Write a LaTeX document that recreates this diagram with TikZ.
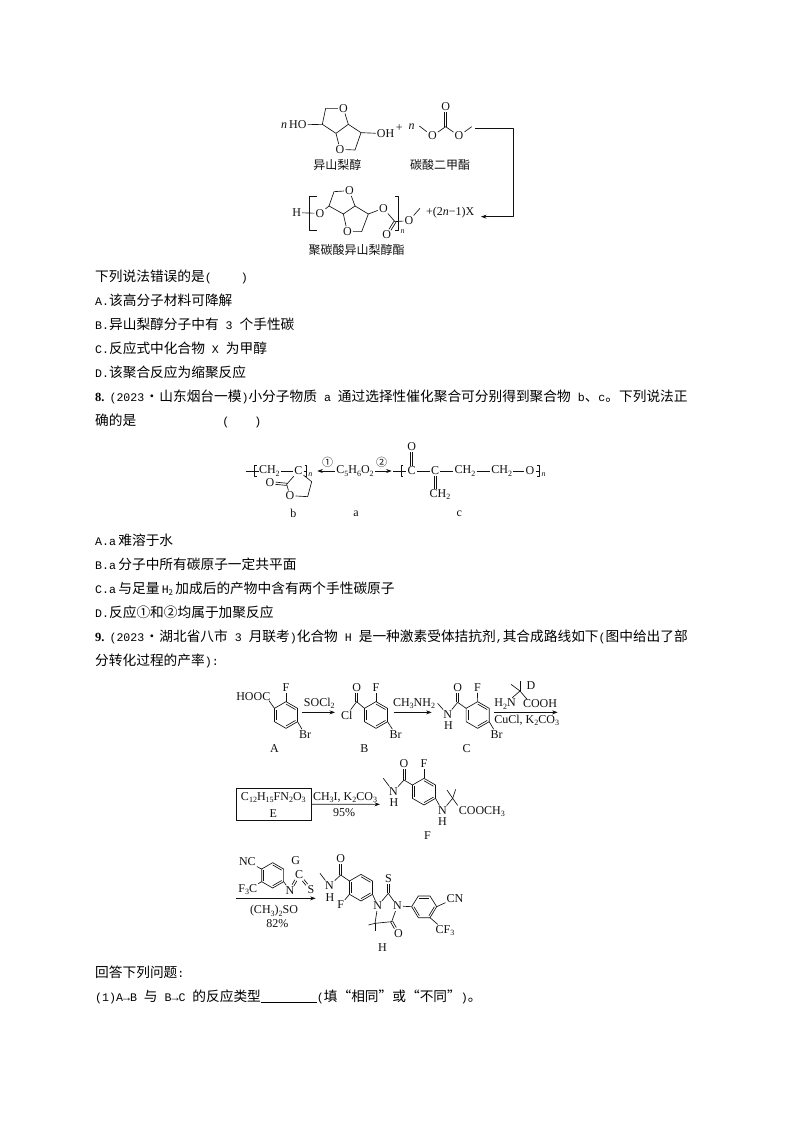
\documentclass[tikz,border=0pt]{standalone}
\usepackage{fontspec}
\setmainfont{Liberation Serif}
\setmonofont{Liberation Mono}
\newfontfamily\cjk{Noto Sans CJK SC}
\usetikzlibrary{calc,arrows.meta}
\definecolor{ink}{HTML}{111111}
\newcommand\m[1]{{\fontsize{11.6}{14}\ttfamily #1}}
\newcommand\bnum[1]{{\rmfamily\bfseries\fontsize{12.5}{14}\selectfont #1}}
\newcommand\oq{\makebox[13.7pt][r]{“}}
\newcommand\cq{\makebox[13.7pt][l]{”}}
\newcommand\dn[1]{\raisebox{-2.2pt}{\fontsize{8}{8}\selectfont #1}}
\newcommand\ring[4]{%
 \coordinate (#11) at (#2,{#3-#4});
 \coordinate (#12) at ({#2+.866*#4},{#3-.5*#4});
 \coordinate (#13) at ({#2+.866*#4},{#3+.5*#4});
 \coordinate (#14) at (#2,{#3+#4});
 \coordinate (#15) at ({#2-.866*#4},{#3+.5*#4});
 \coordinate (#16) at ({#2-.866*#4},{#3-.5*#4});
 \coordinate (#1c) at (#2,#3);
 \draw[bond] (#11)--(#12)--(#13)--(#14)--(#15)--(#16)--cycle;}
\newcommand\inn[3]{\draw[bond] ($(#2)!.18!(#1c)$)--($(#3)!.18!(#1c)$);}
\newcommand\dbl[2]{\path (#1)--(#2) coordinate[pos=0] (dA) coordinate[pos=1] (dB);
 \draw[bond] ($(dA)!1.1pt!90:(dB)$)--($(dB)!1.1pt!-90:(dA)$);
 \draw[bond] ($(dA)!1.1pt!-90:(dB)$)--($(dB)!1.1pt!90:(dA)$);}
\tikzset{
 bond/.style={line width=.65pt,draw=ink,line join=round},
 atom/.style={inner sep=1pt,text=ink,font=\fontsize{12}{13}\selectfont},
 cn/.style={inner sep=0pt,text=ink,font=\cjk\fontsize{12}{14}\selectfont},
 bodyline/.style={inner sep=0pt,anchor=base west,text=black,font=\cjk\fontsize{13.7}{16}\selectfont},
 arr/.style={bond,-{Stealth[length=5.5pt,width=4pt]}},
 px/.style={x=.33333pt,y=-.33333pt}
}
\begin{document}
\begin{tikzpicture}[x=1pt,y=-1pt]
\useasboundingbox[fill=white] (0,0) rectangle (794,1123);
%% body text
\node[bodyline] (t1) at (95,281) {下列说法错误的是\m{(}\hspace{29pt}\m{)}};
\node[bodyline] (t2) at (95,305) {\m{A.}该高分子材料可降解};
\node[bodyline] (t3) at (95,329) {\m{B.}异山梨醇分子中有\m{\ 3\ }个手性碳};
\node[bodyline] (t4) at (95,353) {\m{C.}反应式中化合物\m{\ X\ }为甲醇};
\node[bodyline] (t5) at (95,377) {\m{D.}该聚合反应为缩聚反应};
\node[bodyline] (t6) at (95,401) {\bnum{8.}\hspace{5pt}\m{(2023}\makebox[15pt]{·}山东烟台一模\m{)}小分子物质\m{\ a\ }通过选择性催化聚合可分别得到聚合物\m{\ b}、\m{c}。下列说法正};
\node[bodyline] (t7) at (95,425) {确的是\hspace{86pt}\m{(}\hspace{25pt}\m{)}};
\node[bodyline] (t8) at (95,545) {\m{A.a}\,难溶于水};
\node[bodyline] (t9) at (95,569) {\m{B.a}\,分子中所有碳原子一定共平面};
\node[bodyline] (t10) at (95,593) {\m{C.a}\,与足量\,\m{H}\dn{2}\,加成后的产物中含有两个手性碳原子};
\node[bodyline] (t11) at (95,617) {\m{D.}反应①和②均属于加聚反应};
\node[bodyline] (t12) at (95,641) {\bnum{9.}\hspace{5pt}\m{(2023}\makebox[15pt]{·}湖北省八市\m{\ 3\ }月联考\m{)}化合物\m{\ H\ }是一种激素受体拮抗剂\m{,}其合成路线如下\m{(}图中给出了部};
\node[bodyline] (t13) at (95,665) {分转化过程的产率\m{):}};
\node[bodyline] (t14) at (95,977) {回答下列问题\m{:}};
\node[bodyline] (t15) at (95,1001) {\m{(1)A→B\ }与\m{\ B→C\ }的反应类型\underline{\hspace{56pt}}\m{(}填\oq 相同\cq 或\oq 不同\cq\m{)}。};

%% first scheme
\begin{scope}[px,shift={(260pt,-90pt)}]
 \node[atom,anchor=east] (ho) at (143,105) {\textit{n}\,HO};
 \coordinate (a1) at (187,103); \coordinate (a2) at (197,55);
 \node[atom] (ao1) at (250,55) {O};
 \coordinate (a3) at (265,103); \coordinate (a4) at (228,130);
 \coordinate (a5) at (303,128); \coordinate (a6) at (285,180);
 \node[atom] (ao2) at (240,178) {O};
 \node[atom,anchor=west] (oh) at (347,131) {OH};
 \draw[bond] (ho)--(a1)--(a2)--(ao1)--(a3)--(a4)--(a1);
 \draw[bond] (a3)--(a5)--(a6)--(ao2)--(a4);
 \draw[bond] (a5)--(oh);
 \node[atom] (plus) at (418,113) {+};
 \node[atom] (nn) at (455,110) {\textit{n}};
 \coordinate (d1) at (478,108);
 \node[atom] (do1) at (517,138) {O};
 \coordinate (d2) at (557,110);
 \node[atom] (do2) at (597,138) {O};
 \coordinate (d3) at (635,110);
 \node[atom] (do3) at (557,50) {O};
 \draw[bond] (d1)--(do1)--(d2)--(do2)--(d3);
 \dbl{d2}{do3}
 \coordinate (r1) at (645,115); \coordinate (r2) at (760,115);
 \coordinate (r3) at (760,380); \coordinate (r4) at (663,380);
 \draw[arr] (r1)--(r2)--(r3)--(r4);
 \node[cn] (lab1) at (232,224) {异山梨醇};
 \node[cn] (lab2) at (540,226) {碳酸二甲酯};
 \node[atom] (ph) at (110,368) {H};
 \node[atom] (po1) at (180,370) {O};
 \coordinate (p1) at (207,348); \coordinate (p2) at (222,305);
 \node[atom] (po2) at (268,302) {O};
 \coordinate (p3) at (285,348); \coordinate (p4) at (250,372);
 \coordinate (p5) at (325,372); \coordinate (p6) at (305,425);
 \node[atom] (po3) at (262,425) {O};
 \node[atom] (po4) at (370,355) {O};
 \coordinate (p7) at (405,395);
 \node[atom] (po5) at (380,435) {O};
 \node[atom] (po6) at (447,392) {O};
 \coordinate (p8) at (480,355);
 \draw[bond] (ph)--(po1)--(p1)--(p2)--(po2)--(p3)--(p4)--(p1);
 \draw[bond] (p3)--(p5)--(p6)--(po3)--(p4);
 \draw[bond] (p5)--(po4)--(p7)--(po6)--(p8);
 \dbl{p7}{po5}
 \coordinate (bl1) at (170,318); \coordinate (bl2) at (147,318);
 \coordinate (bl3) at (147,422); \coordinate (bl4) at (170,422);
 \coordinate (br1) at (405,318); \coordinate (br2) at (415,318);
 \coordinate (br3) at (415,422); \coordinate (br4) at (405,422);
 \draw[bond,line width=.8pt] (bl1)--(bl2)--(bl3)--(bl4);
 \draw[bond,line width=.8pt] (br1)--(br2)--(br3)--(br4);
 \node[atom,font=\fontsize{8}{8}\selectfont\itshape] (pn) at (428,425) {n};
 \node[atom,anchor=west] (px2) at (495,368) {+(2\textit{n}−1)X};
 \node[cn] (lab3) at (290,480) {聚碳酸异山梨醇酯};
\end{scope}

%% second scheme
\begin{scope}[px,shift={(230pt,-435pt)}]
 \node[atom] (bch2) at (118,108) {CH\dn{2}};
 \node[atom] (bc) at (205,108) {C};
 \coordinate (bd1) at (48,108); \coordinate (bd2) at (88,108);
 \coordinate (bd4) at (232,108);
 \draw[bond] (bd1)--(bd2); \draw[bond] (bch2)--(bc)--(bd4);
 \draw[bond] (80,92)--(74,92)--(74,124)--(80,124);
 \draw[bond] (224,92)--(230,92)--(230,124)--(224,124);
 \node[atom,font=\fontsize{8}{8}\selectfont\itshape] (bn) at (241,119) {n};
 \coordinate (b1) at (170,148);
 \node[atom] (bo1) at (120,143) {O};
 \node[atom] (bo2) at (180,182) {O};
 \coordinate (b2) at (233,185); \coordinate (b3) at (245,140);
 \draw[bond] (bc)--(b1)--(bo2)--(b2)--(b3)--(bc);
 \dbl{b1}{bo1}
 \node[atom,font=\cjk\fontsize{11}{12}\selectfont] (c1m) at (293,82) {①};
 \node[atom,font=\cjk\fontsize{11}{12}\selectfont] (c2m) at (455,82) {②};
 \node[atom] (aa) at (375,108) {C\dn{5}H\dn{6}O\dn{2}};
 \coordinate (ar1) at (262,108); \coordinate (ar2) at (485,108);
 \draw[arr] (aa)--(ar1); \draw[arr] (aa)--(ar2);
 \coordinate (cd1) at (490,108);
 \node[atom] (cc1) at (545,108) {C};
 \node[atom] (co1) at (545,35) {O};
 \node[atom] (cc2) at (615,108) {C};
 \node[atom] (cch) at (630,178) {CH\dn{2}};
 \node[atom] (cc3) at (705,108) {CH\dn{2}};
 \node[atom] (cc4) at (815,108) {CH\dn{2}};
 \node[atom] (co2) at (900,108) {O};
 \coordinate (cd2) at (930,108);
 \coordinate (cdb) at (615,163);
 \draw[bond] (cd1)--(cc1)--(cc2)--(cc3)--(cc4)--(co2)--(cd2);
 \dbl{cc1}{co1}
 \dbl{cc2}{cdb}
 \draw[bond] (520,92)--(514,92)--(514,124)--(520,124);
 \draw[bond] (922,92)--(928,92)--(928,124)--(922,124);
 \node[atom,font=\fontsize{8}{8}\selectfont\itshape] (cn1) at (941,119) {n};
 \node[atom] (lb) at (190,235) {b};
 \node[atom] (la) at (378,235) {a};
 \node[atom] (lc) at (688,235) {c};
\end{scope}

%% third scheme, row 1
\begin{scope}[px,shift={(225pt,-675pt)}]
 \ring{A}{183}{120}{40}
 \inn{A}{A5}{A6}\inn{A}{A1}{A2}\inn{A}{A3}{A4}
 \node[atom] (ahooc) at (85,65) {HOOC};
 \node[atom] (af) at (183,38) {F};
 \node[atom] (abr) at (240,178) {Br};
 \draw[bond] (A6)--(132,77);
 \draw[bond] (A1)--(af);
 \draw[bond] (A3)--(abr);
 \node[atom] (la1) at (148,222) {A};
 \coordinate (s1) at (232,112); \coordinate (s2) at (330,112);
 \draw[arr] (s1)--(s2);
 \node[atom] (so) at (283,85) {SOCl\dn{2}};
 \ring{B}{453}{120}{40}
 \inn{B}{B5}{B6}\inn{B}{B1}{B2}\inn{B}{B3}{B4}
 \coordinate (bcc) at (395,80);
 \node[atom] (boo) at (395,38) {O};
 \node[atom] (bcl) at (365,120) {Cl};
 \node[atom] (bf) at (453,38) {F};
 \node[atom] (bbr) at (512,178) {Br};
 \draw[bond] (B6)--(bcc)--(bcl);
 \dbl{bcc}{boo}
 \draw[bond] (B1)--(bf); \draw[bond] (B3)--(bbr);
 \node[atom] (lb1) at (418,222) {B};
 \coordinate (s3) at (508,112); \coordinate (s4) at (620,112);
 \draw[arr] (s3)--(s4);
 \node[atom] (ch3nh2) at (567,85) {CH\dn{3}NH\dn{2}};
 \ring{C}{758}{120}{40}
 \inn{C}{C5}{C6}\inn{C}{C1}{C2}\inn{C}{C3}{C4}
 \coordinate (cme) at (638,85);
 \node[atom] (cnn) at (668,119) {N};
 \node[atom] (cnh) at (670,152) {H};
 \coordinate (cco) at (698,82);
 \node[atom] (coo) at (698,38) {O};
 \node[atom] (cff) at (757,38) {F};
 \node[atom] (cbr) at (815,178) {Br};
 \draw[bond] (cme)--(cnn)--(cco)--(C6);
 \dbl{cco}{coo}
 \draw[bond] (C1)--(cff); \draw[bond] (C3)--(cbr);
 \node[atom] (lc1) at (725,222) {C};
 \coordinate (s5) at (808,112); \coordinate (s6) at (998,112);
 \draw[arr] (s5)--(s6);
 \node[atom] (dn) at (840,87) {H\dn{2}N};
 \node[atom] (dcooh) at (945,87) {COOH};
 \coordinate (dq) at (885,48); \coordinate (dm1) at (858,28); \coordinate (dm2) at (885,18);
 \draw[bond] (dn)--(dq)--(907,74); \draw[bond] (dq)--(dm1); \draw[bond] (dq)--(dm2);
 \node[atom] (dd) at (918,33) {D};
 \node[atom] (cucl) at (905,137) {CuCl, K\dn{2}CO\dn{3}};
\end{scope}

%% row 2
\begin{scope}[px,shift={(225pt,-760pt)}]
 \node[draw=ink,line width=.65pt,minimum width=75pt,minimum height=31.6pt,inner sep=0pt] (ebox) at (145.5,132.5) {};
 \node[atom] (eform) at (145,113) {C\dn{12}H\dn{15}FN\dn{2}O\dn{3}};
 \node[atom] (elab) at (145,160) {E};
 \coordinate (e2) at (465,133);
 \draw[arr] (ebox.east)--(e2);
 \node[atom] (ech) at (360,112) {CH\dn{3}I, K\dn{2}CO\dn{3}};
 \node[atom] (e95) at (357,158) {95\%};
 \ring{F}{597}{95}{40}
 \inn{F}{F5}{F6}\inn{F}{F1}{F2}\inn{F}{F3}{F4}
 \coordinate (fme) at (475,55);
 \node[atom] (fn) at (505,95) {N};
 \node[atom] (fh) at (507,128) {H};
 \coordinate (fco) at (537,60);
 \node[atom] (foo) at (537,12) {O};
 \node[atom] (fff) at (597,12) {F};
 \draw[bond] (fme)--(fn)--(fco)--(F6);
 \dbl{fco}{foo}
 \draw[bond] (F1)--(fff);
 \node[atom] (fn2) at (652,152) {N};
 \node[atom] (fh2) at (652,185) {H};
 \coordinate (fq) at (683,115);
 \node[atom,anchor=west] (fest) at (698,155) {COOCH\dn{3}};
 \draw[bond] (F3)--(fn2)--(fq)--(fest.north west);
 \draw[bond] (fq)--(666,90); \draw[bond] (fq)--(692,88);
 \node[atom] (lf) at (607,228) {F};
\end{scope}

%% row 3
\begin{scope}[px,shift={(225pt,-845pt)}]
 \ring{G}{143}{91}{38}
 \inn{G}{G1}{G2}\inn{G}{G3}{G4}\inn{G}{G5}{G6}
 \node[atom] (gnc) at (67,50) {NC};
 \node[atom] (gf3) at (68,133) {F\dn{3}C};
 \draw[bond] (gnc)--(G6); \draw[bond] (gf3)--(G5);
 \node[atom] (gn) at (195,136) {N};
 \node[atom] (gc) at (222,90) {C};
 \node[atom] (gs) at (258,135) {S};
 \node[atom] (gg) at (212,47) {G};
 \draw[bond] (G3)--(gn);
 \dbl{gn}{gc}
 \dbl{gc}{gs}
 \coordinate (g1) at (33,160); \coordinate (g2) at (272,160);
 \draw[arr] (g1)--(g2);
 \node[atom] (gso) at (147,198) {(CH\dn{3})\dn{2}SO};
 \node[atom] (g82) at (157,237) {82\%};
 \ring{H}{408}{128}{40}
 \inn{H}{H5}{H6}\inn{H}{H1}{H2}\inn{H}{H3}{H4}
 \coordinate (hme) at (285,85);
 \node[atom] (hn) at (313,122) {N};
 \node[atom] (hh) at (315,157) {H};
 \coordinate (hco) at (347,90);
 \node[atom] (hoo) at (347,42) {O};
 \node[atom] (hf) at (347,180) {F};
 \draw[bond] (hme)--(hn)--(hco)--(H6);
 \dbl{hco}{hoo}
 \draw[bond] (H5)--(hf);
 \node[atom] (hn1) at (458,183) {N};
 \coordinate (hc1) at (490,145);
 \node[atom] (hs) at (490,100) {S};
 \node[atom] (hn2) at (517,183) {N};
 \coordinate (hc2) at (500,230);
 \node[atom] (ho2) at (520,265) {O};
 \coordinate (hc3) at (450,235);
 \draw[bond] (H3)--(hn1)--(hc1)--(hn2)--(hc2)--(hc3)--(hn1);
 \dbl{hc1}{hs}
 \dbl{hc2}{ho2}
 \draw[bond] (hc3)--(430,240); \draw[bond] (hc3)--(450,258);
 \coordinate (k1) at (560,185); \coordinate (k2) at (580,153); \coordinate (k3) at (615,153);
 \coordinate (k4) at (635,185); \coordinate (k5) at (615,218); \coordinate (k6) at (580,218);
 \coordinate (kc) at (597.5,185);
 \draw[bond] (k1)--(k2)--(k3)--(k4)--(k5)--(k6)--cycle;
 \draw[bond] ($(k2)!.18!(kc)$)--($(k3)!.18!(kc)$);
 \draw[bond] ($(k4)!.18!(kc)$)--($(k5)!.18!(kc)$);
 \draw[bond] ($(k6)!.18!(kc)$)--($(k1)!.18!(kc)$);
 \draw[bond] (hn2)--(k1);
 \node[atom] (hcn) at (690,160) {CN};
 \node[atom] (hcf) at (660,257) {CF\dn{3}};
 \draw[bond] (k4)--(hcn); \draw[bond] (k5)--(hcf);
 \node[atom] (lh) at (472,308) {H};
\end{scope}
\end{tikzpicture}
\end{document}
